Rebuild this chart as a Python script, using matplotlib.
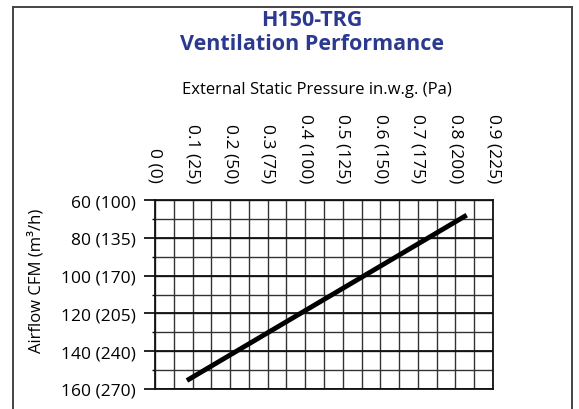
import matplotlib
matplotlib.use("Agg")
import matplotlib.pyplot as plt
from matplotlib.lines import Line2D
import numpy as np

plt.rcParams['font.family'] = ['Open Sans', 'DejaVu Sans']

# Data
pressure_ticks = [0, 0.1, 0.2, 0.3, 0.4, 0.5, 0.6, 0.7, 0.8, 0.9]
pressure_labels = ["0 (0)", "0.1 (25)", "0.2 (50)", "0.3 (75)", "0.4 (100)",
                   "0.5 (125)", "0.6 (150)", "0.7 (175)", "0.8 (200)", "0.9 (225)"]
airflow_ticks = [60, 80, 100, 120, 140, 160]
airflow_labels = ["60 (100)", "80 (135)", "100 (170)", "120 (205)", "140 (240)", "160 (270)"]
curve_pressure = [0.085, 0.83]
curve_airflow = [155.5, 68]

fig = plt.figure(figsize=(5.79, 4.10), dpi=100)
W, H = 579, 410

# Figure frame (bottom edge lies outside the visible area)
fl, fr, ft = 12.5 / W, 572 / W, 1 - 7.5 / H
for xs, ys in [([fl, fl], [-0.1, ft]), ([fr, fr], [-0.1, ft]), ([fl, fr], [ft, ft])]:
    fig.add_artist(Line2D(xs, ys, transform=fig.transFigure,
                          color='#444444', linewidth=1.4,
                          solid_capstyle='projecting'))

ax = fig.add_axes([155 / W, 1 - 390 / H, (493 - 155) / W, (390 - 201) / H])
ax.set_xlim(0, 0.9)
ax.set_ylim(160, 60)

# grid
minor_x = np.arange(0, 0.9001, 0.05)
minor_y = np.arange(60, 160.01, 10)
for xv in minor_x:
    ax.axvline(xv, color='#333333', linewidth=1.0, zorder=1)
for yv in minor_y:
    ax.axhline(yv, color='#333333', linewidth=1.0, zorder=1)
for yv in airflow_ticks:
    ax.axhline(yv, color='#111111', linewidth=1.3, zorder=1)

ax.plot(curve_pressure, curve_airflow, color='black', linewidth=3.5,
        solid_capstyle='butt', zorder=3)

for s in ax.spines.values():
    s.set_linewidth(1.3)
    s.set_color('#111111')

ax.xaxis.tick_top()
ax.set_xticks(pressure_ticks)
ax.set_xticklabels(pressure_labels, rotation=270, fontsize=12.5)
ax.tick_params(axis='x', which='both', length=0, pad=13)

ax.set_yticks(airflow_ticks)
ax.set_yticklabels(airflow_labels, fontsize=12.5)
ax.set_yticks([70, 90, 110, 130, 150], minor=True)
ax.tick_params(axis='y', which='major', length=8, width=1.2, pad=6)
ax.tick_params(axis='y', which='minor', length=2, width=1.0)

fig.text(311.7 / W, 1 - 20 / H, "H150-TRG", ha='center', va='center',
         fontsize=15.5, fontweight='bold', color='#2b3990')
fig.text(311.7 / W, 1 - 44 / H, "Ventilation Performance", ha='center', va='center',
         fontsize=15.5, fontweight='bold', color='#2b3990')
fig.text(316.7 / W, 1 - 90 / H, "External Static Pressure in.w.g. (Pa)",
         ha='center', va='center', fontsize=12)
fig.text(36.7 / W, 1 - 281 / H, "Airflow CFM (m\u00b3/h)", rotation=90,
         ha='center', va='center', fontsize=12)

fig.savefig("out.png", dpi=100)
